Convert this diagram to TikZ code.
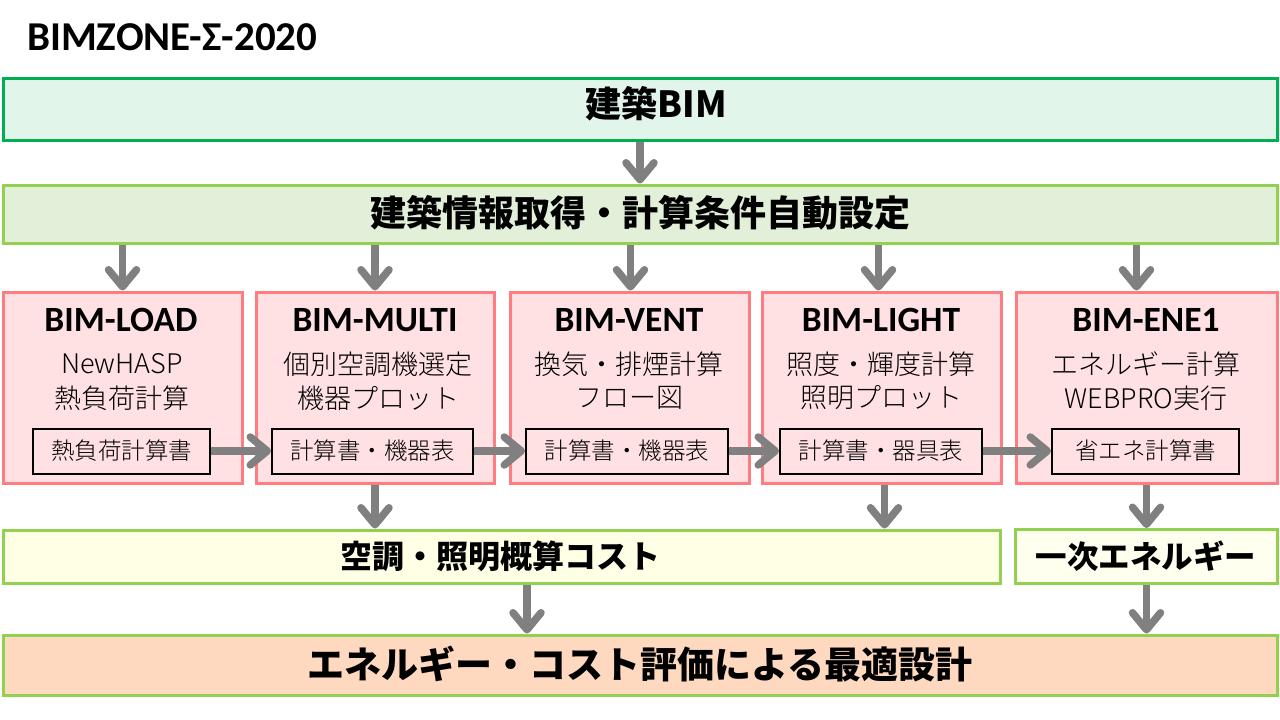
\documentclass[tikz,border=0pt]{standalone}
\usepackage{fontspec}
\setmainfont{Carlito}
\newfontfamily\jp{Noto Sans CJK JP}
\newfontfamily\jpl{Noto Sans CJK JP Light}
\usetikzlibrary{arrows.meta,calc}
\definecolor{arrgray}{HTML}{808080}
\definecolor{topfill}{HTML}{E2F5EA}
\definecolor{topdraw}{HTML}{00B050}
\definecolor{lgreen}{HTML}{92D050}
\definecolor{infofill}{HTML}{E2F0D9}
\definecolor{modfill}{HTML}{FFE0E3}
\definecolor{moddraw}{HTML}{FF7C80}
\definecolor{costfill}{HTML}{FFFFE6}
\definecolor{enefill}{HTML}{FFFFF0}
\definecolor{finalfill}{HTML}{FFD9BF}
\tikzset{
  wide/.style={rectangle, line width=3pt, inner sep=0pt},
  bigtext/.style={inner sep=0pt, font=\jp\bfseries\fontsize{#1}{#1}\selectfont},
  modbox/.style={rectangle, draw=moddraw, fill=modfill, line width=3pt, minimum width=#1, minimum height=191pt, inner sep=0pt},
  modtitle/.style={font=\bfseries\fontsize{35.5}{38}\selectfont, inner sep=0pt},
  modline/.style={font=\jpl\fontsize{27}{30}\selectfont, inner sep=0pt},
  outbox/.style={rectangle, draw=black, fill=modfill, line width=2pt, minimum width=#1, minimum height=45pt, inner sep=0pt, font=\jpl\fontsize{23.5}{26}\selectfont},
  arr/.style={draw=arrgray, line width=7.5pt, -{Straight Barb[length=17pt, width=28pt, line width=7.5pt, round]}},
}
\begin{document}
\begin{tikzpicture}[x=1pt,y=-1pt]
\useasboundingbox (0,0) rectangle (1280,720);
\fill[white] (0,0) rectangle (1280,720);

\node[anchor=west, inner sep=0pt, font=\bfseries\fontsize{41}{44}\selectfont] (title) at (27,37) {BIMZONE-Σ-2020};

\node[wide, draw=topdraw, fill=topfill, minimum width=1274pt, minimum height=62pt] (bim) at (640,109) {};
\node[bigtext=36] (bimt) at (656,104) {建築BIM};
\node[wide, draw=lgreen, fill=infofill, minimum width=1274pt, minimum height=58pt] (info) at (640,214) {};
\node[bigtext=36] (infot) at (640,213) {建築情報取得・計算条件自動設定};

% modules
\node[modbox=239pt] (m1) at (122.5,387.5) {};
\node[modbox=238pt] (m2) at (375,387.5) {};
\node[modbox=239pt] (m3) at (629.5,387.5) {};
\node[modbox=239pt] (m4) at (881.5,387.5) {};
\node[modbox=261pt] (m5) at (1146.5,387.5) {};

\node[modtitle] (t1) at (121,320) {BIM-LOAD};
\node[modtitle] (t2) at (375,320) {BIM-MULTI};
\node[modtitle] (t3) at (629,320) {BIM-VENT};
\node[modtitle] (t4) at (881,320) {BIM-LIGHT};
\node[modtitle] (t5) at (1146,320) {BIM-ENE1};

\node[modline] (a1) at (122,364) {NewHASP};
\node[modline] (b1) at (122,398) {熱負荷計算};
\node[modline] (a2) at (378,364) {個別空調機選定};
\node[modline] (b2) at (378,398) {機器プロット};
\node[modline] (a3) at (629,364) {換気・排煙計算};
\node[modline] (b3) at (629,398) {フロー図};
\node[modline] (a4) at (881,364) {照度・輝度計算};
\node[modline] (b4) at (881,398) {照明プロット};
\node[modline] (a5) at (1146,364) {エネルギー計算};
\node[modline] (b5) at (1146,398) {WEBPRO実行};

\node[outbox=177pt] (o1) at (121.5,451) {熱負荷計算書};
\node[outbox=201pt] (o2) at (372.5,451) {計算書・機器表};
\node[outbox=202pt] (o3) at (627,451) {計算書・機器表};
\node[outbox=202pt] (o4) at (881,451) {計算書・器具表};
\node[outbox=187pt] (o5) at (1145.5,451) {省エネ計算書};

\node[wide, draw=lgreen, fill=costfill, minimum width=997pt, minimum height=53pt] (cost) at (501.5,556.5) {};
\node[bigtext=32] (costt) at (500,556) {空調・照明概算コスト};
\node[wide, draw=lgreen, fill=enefill, minimum width=262pt, minimum height=54pt] (ene) at (1146,556.5) {};
\node[bigtext=31.5] (enet) at (1146,556) {一次エネルギー};
\node[wide, draw=lgreen, fill=finalfill, minimum width=1274pt, minimum height=60pt] (final) at (640,665) {};
\node[bigtext=37] (finalt) at (640,664) {エネルギー・コスト評価による最適設計};

% arrows
\draw[arr] (bim.south) -- (info.north);
\draw[arr] (info.south -| m1.north) -- (m1.north);
\draw[arr] (info.south -| m2.north) -- (m2.north);
\draw[arr] ([xshift=1pt]info.south -| m3.north) -- ([xshift=1pt]m3.north);
\draw[arr] ([xshift=-3pt]info.south -| m4.north) -- ([xshift=-3pt]m4.north);
\draw[arr] ([xshift=-10pt]info.south -| m5.north) -- ([xshift=-10pt]m5.north);

\draw[arr] (o1.east) -- (o2.west);
\draw[arr] (o2.east) -- (o3.west);
\draw[arr] (o3.east) -- (o4.west);
\draw[arr] (o4.east) -- (o5.west);

\draw[arr] (m2.south) -- (cost.north -| m2.south);
\draw[arr] ([xshift=3pt]m4.south) -- ([xshift=3pt]cost.north -| m4.south);
\draw[arr] (m5.south) -- (ene.north -| m5.south);

\draw[arr] (cost.south -| 527,0) -- (final.north -| 527,0);
\draw[arr] (ene.south -| m5.south) -- (final.north -| m5.south);
\end{tikzpicture}
\end{document}
